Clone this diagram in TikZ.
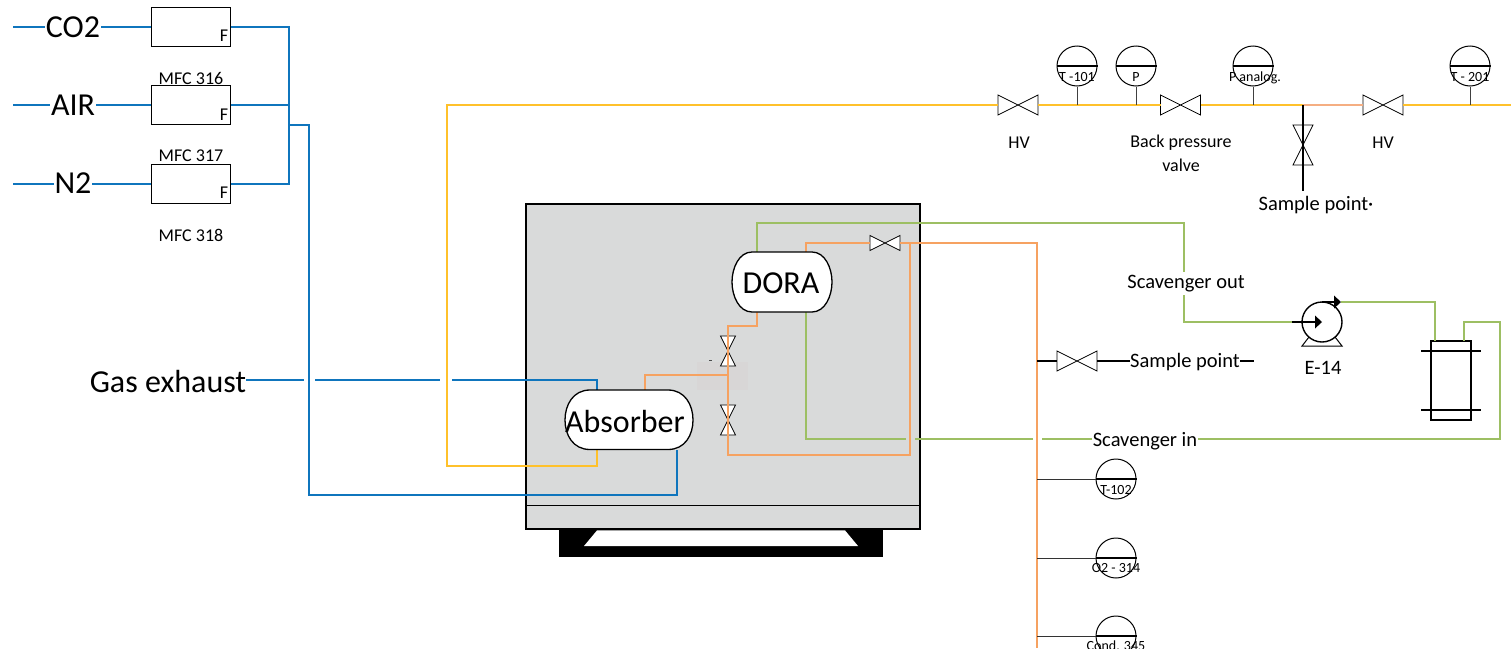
\documentclass[tikz,border=0pt]{standalone}
\usepackage{fontspec}
\setmainfont{Carlito}
\definecolor{pipeblue}{HTML}{0F75BD}
\definecolor{pipeyellow}{HTML}{FFC12B}
\definecolor{pipeorange}{HTML}{F6A261}
\definecolor{pipesalmon}{HTML}{F5AE82}
\definecolor{pipegreen}{HTML}{9DBF63}
\definecolor{vessel}{HTML}{D9DADA}
\definecolor{patchgrey}{HTML}{D8D6D6}
\tikzset{
  blue pipe/.style={draw=pipeblue,line width=1.5pt},
  yellow pipe/.style={draw=pipeyellow,line width=1.5pt},
  orange pipe/.style={draw=pipeorange,line width=1.5pt},
  green pipe/.style={draw=pipegreen,line width=1.5pt},
  stem/.style={draw=black,line width=1pt},
  big/.style={font=\fontsize{32}{34}\selectfont,inner sep=0pt},
  mid/.style={font=\fontsize{20.5}{22}\selectfont,inner sep=0pt},
  small/.style={font=\fontsize{18}{20}\selectfont,inner sep=0pt},
  tiny label/.style={font=\fontsize{14}{16}\selectfont,inner sep=0pt},
  masked/.style={fill=white,inner xsep=1pt,inner ysep=0pt},
  mfc/.style={draw=black,line width=1pt,fill=white,minimum width=79pt,minimum height=39pt,inner sep=0pt},
  gauge/.style={circle,draw=black,line width=1pt,minimum size=40pt,inner sep=0pt},
  valve/.pic={
    \draw[black,line width=.8pt,fill=white] (-20,-10) -- (20,10) -- (20,-10) -- (-20,10) -- cycle;
    \coordinate (-w) at (-20,0);
    \coordinate (-e) at (20,0);
  },
  smallvalve/.pic={
    \draw[black,line width=.8pt,fill=white] (-15,-7.5) -- (15,7.5) -- (15,-7.5) -- (-15,7.5) -- cycle;
    \coordinate (-w) at (-15,0);
    \coordinate (-e) at (15,0);
  },
}
\begin{document}
\begin{tikzpicture}[x=1pt,y=-1pt]
\useasboundingbox (0,0) rectangle (1511,648);
\clip (0,0) rectangle (1511,648);

% vessel
\draw[black,line width=1.2pt,fill=vessel] (526,204) rectangle (920,529);
\draw[black,line width=1pt] (526,505) -- (920,505);
\fill[black] (559,529.7) rectangle (883,557);
\fill[white] (597,530.4) -- (845,530.4) -- (858,546) -- (584,546) -- cycle;
\fill[patchgrey] (697,362) rectangle (748,390);
\draw[black!70,line width=.6pt] (709,360) -- (712,360);

% coordinates
\coordinate (dtopL) at (757,252);
\coordinate (dtopR) at (806,252);
\coordinate (dbotL) at (757,312);
\coordinate (dbotR) at (806,312);
\coordinate (atopL) at (597,390);
\coordinate (atopR) at (645,390);
\coordinate (abotL) at (597,450);
\coordinate (abotR) at (677,450);

% gas feed
\coordinate (inCO) at (13,27);
\coordinate (inAIR) at (13,105);
\coordinate (inN) at (13,184);
\node[mfc] (m1) at (190.5,27) {};
\node[mfc] (m2) at (190.5,105) {};
\node[mfc] (m3) at (190.5,184) {};
\node[small,anchor=center] (f1) at (224,36) {F};
\node[small,anchor=center] (f2) at (224,115) {F};
\node[small,anchor=center] (f3) at (224,193) {F};
\draw[blue pipe] (inCO) -- (m1.west);
\draw[blue pipe] (inAIR) -- (m2.west);
\draw[blue pipe] (inN) -- (m3.west);
\node[big,masked] (co2) at (73,27) {CO2};
\node[big,masked] (air) at (73,105) {AIR};
\node[big,masked] (n2) at (73,183) {N2};
\node[small] (l316) at (191,78) {MFC 316};
\node[small] (l317) at (191,156) {MFC 317};
\node[small] (l318) at (191,235) {MFC 318};
\coordinate (bus) at (289,125);
\draw[blue pipe] (m1.east) -- (289,27) -- (289,184) -- (m3.east);
\draw[blue pipe] (m2.east) -- (289,105);
\draw[blue pipe] (bus) -- (309,125) -- (309,495) -- (677,495) -- (abotR);

% gas exhaust
\node[big] (gas) at (168,382) {Gas exhaust};
\draw[blue pipe] (gas.east |- 0,380) -- (304,380);
\draw[blue pipe] (315,380) -- (440,380);
\draw[blue pipe] (452,380) -- (597,380) -- (atopL);

% yellow line
\coordinate (yend) at (1511,105);
\pic (hv1) at (1018,105) {valve};
\pic (bp) at (1180.5,105) {valve};
\pic (hv2) at (1383,105) {valve};
\draw[yellow pipe] (abotL) -- (597,466) -- (447,466) -- (447,105) -- (hv1-w);
\draw[yellow pipe] (hv1-e) -- (bp-w);
\draw[yellow pipe] (bp-e) -- (1303,105);
\draw[draw=pipesalmon,line width=1.5pt] (1303,105) -- (hv2-w);
\draw[yellow pipe] (hv2-e) -- (yend);

% gauges top
\foreach \n/\x/\t in {g1/1077/T -101,g2/1136/P,g3/1253/{},g4/1470/T - 201}{
  \node[gauge] (\n) at (\x,66) {};
  \draw[black,line width=1.4pt] (\n.west) -- (\n.east);
  \draw[stem,draw=black!75] (\n.south) -- (\x,105);
}
\node[tiny label] (t1) at (1077,77.5) {T -101};
\node[tiny label] (t2) at (1136,77.5) {P};
\node[tiny label] (t3) at (1255,77.5) {P analog.};
\node[tiny label] (t4) at (1470,77.5) {T - 201};
\node[small] (hvl1) at (1019,143) {HV};
\node[small] (bpl1) at (1181,143) {Back pressure};
\node[small] (bpl2) at (1181,165) {valve};
\node[small] (hvl2) at (1383,143) {HV};

% vertical sample valve
\coordinate (tee) at (1303,105);
\coordinate (sp1end) at (1303,191);
\pic[rotate=90] (sv) at (1303,145) {valve};
\draw[stem,line width=1.1pt] (tee) -- (sv-w);
\draw[stem,line width=1.1pt] (sv-e) -- (sp1end);
\node[mid] (sp1) at (1316,205) {Sample point·};

% green loop
\node[mid] (sout) at (1186,284) {Scavenger out};
\coordinate (pumpin) at (1292,322);
\coordinate (pumpout) at (1341,302);
\node[draw=black,line width=1.2pt,rectangle,minimum width=40pt,minimum height=79pt,inner sep=0pt] (hx) at (1451,380.5) {};
\draw[green pipe] (dtopL) -- (757,223) -- (1184,223) -- (1184,272);
\draw[green pipe] (1184,295) -- (1184,322) -- (pumpin);
\draw[green pipe] (pumpout) -- (1435,302) -- (1435,341);
\draw[green pipe] (1464,341) -- (1464,322) -- (1500,322) -- (1500,439) -- (1042,439);
\draw[green pipe] (1033,439) -- (915,439);
\draw[green pipe] (906,439) -- (806,439) -- (dbotR);
\node[mid,masked] (sin) at (1145,441) {Scavenger in};
\node[mid] (e14) at (1323,368) {E-14};

% exchanger bars
\draw[black,line width=1.2pt] (1421,351) -- (1481,351);
\draw[black,line width=1.2pt] (1421,410) -- (1481,410);

% pump
\node[circle,draw=black,line width=1.4pt,minimum size=40pt,inner sep=0pt] (pump) at (1322,322) {};
\draw[black,line width=1pt] (1309,337) -- (1302,346) -- (1342,346) -- (1335,337);
\draw[black,line width=1.2pt] (pumpin) -- (1316,322);
\fill[black] (1322,322) -- (1315,315.5) -- (1315,328.5) -- cycle;
\draw[black,line width=1.2pt] (1322,302) -- (1335,302);
\fill[black] (pumpout) -- (1334,295.5) -- (1334,308.5) -- cycle;

% orange network
\pic (v3) at (885,243) {smallvalve};
\pic[rotate=90] (v1) at (728,351) {smallvalve};
\pic[rotate=90] (v2) at (728,420) {smallvalve};
\coordinate (tee2) at (728,375);
\draw[orange pipe] (dtopR) -- (806,243) -- (v3-w);
\draw[orange pipe] (v3-e) -- (1037,243) -- (1037,648);
\draw[orange pipe] (910,243) -- (910,455) -- (728,455) -- (v2-e);
\draw[orange pipe] (dbotL) -- (757,326) -- (728,326) -- (v1-w);
\draw[orange pipe] (v1-e) -- (v2-w);
\draw[orange pipe] (tee2) -- (645,375) -- (atopR);

% tanks
\draw[black,line width=1.3pt,fill=white] (752,252) -- (812,252) .. controls (825,252) and (832,268) .. (832,282) .. controls (832,296) and (825,312) .. (812,312) -- (752,312) .. controls (739,312) and (732,296) .. (732,282) .. controls (732,268) and (739,252) .. (752,252) -- cycle;
\node[big] (dora) at (781,283) {DORA};
\draw[black,line width=1.3pt,fill=white] (590,390) -- (668,390) .. controls (685,390) and (693,405) .. (693,420) .. controls (693,435) and (685,449.5) .. (668,449.5) -- (590,449.5) .. controls (573,449.5) and (565,435) .. (565,420) .. controls (565,405) and (573,390) .. (590,390) -- cycle;
\node[big] (abs) at (625,421) {Absorber};

% sample point right
\pic (sv2) at (1077,361) {valve};
\node[mid] (sp2) at (1185,362) {Sample point};
\coordinate (pipeA) at (1037,361);
\coordinate (sp2end) at (1254,361);
\draw[stem,line width=1.1pt] (pipeA) -- (sv2-w);
\draw[stem,line width=1.1pt] (sv2-e) -- (sp2.west |- 0,361);
\draw[stem,line width=1.1pt] (sp2.east |- 0,361) -- (sp2end);

% gauges on orange line
\foreach \n/\y in {g5/479,g6/558,g7/636}{
  \node[gauge] (\n) at (1116,\y) {};
  \coordinate (b\n) at (1037,\y);
  \draw[black,line width=1.3pt] (\n.west) -- (\n.east);
  \draw[stem,draw=black!80] (b\n) -- (\n.west);
}
\node[tiny label] (t5) at (1116,490) {T-102};
\node[tiny label] (t6) at (1116,568) {O2 - 314};
\node[tiny label] (t7) at (1116,646) {Cond. 345};
\end{tikzpicture}
\end{document}
